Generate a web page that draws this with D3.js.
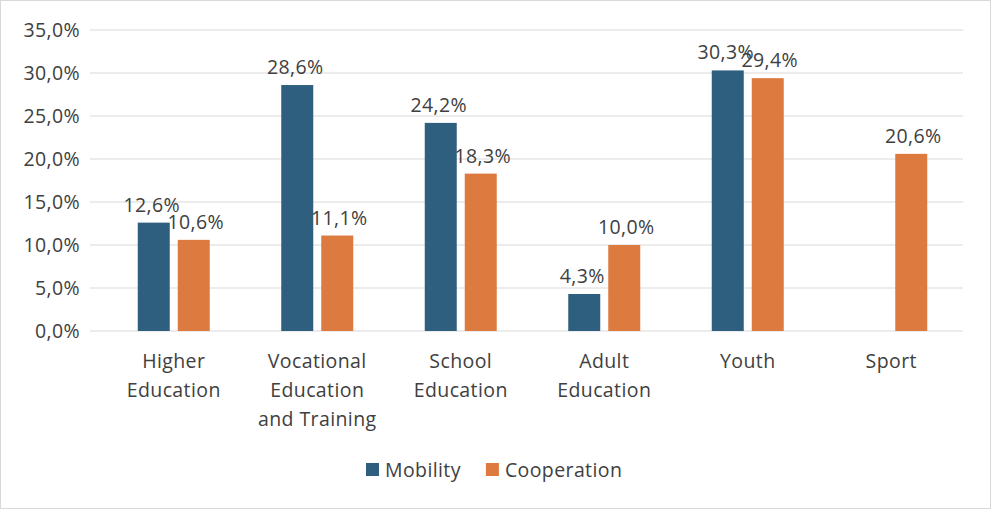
<!DOCTYPE html>
<html>
<head>
<meta charset="utf-8">
<script src="https://cdn.jsdelivr.net/npm/d3@7"></script>
<style>
  body { margin: 0; background: #fff; }
  svg { font-family: "Open Sans", sans-serif; letter-spacing: 0.4px; }
</style>
</head>
<body>
<svg id="chart" width="991" height="509"></svg>
<script>
const categories = [
  ["Higher", "Education"],
  ["Vocational", "Education", "and Training"],
  ["School", "Education"],
  ["Adult", "Education"],
  ["Youth"],
  ["Sport"]
];
const mobility = [12.6, 28.6, 24.2, 4.3, 30.3, null];
const cooperation = [10.6, 11.1, 18.3, 10.0, 29.4, 20.6];
const yTicks = [0, 5, 10, 15, 20, 25, 30, 35];
const seriesNames = ["Mobility", "Cooperation"];
const colors = ["#2e5f7f", "#dd7a40"];

const svg = d3.select("#chart");
const margin = {left: 102, right: 28, top: 30, bottom: 178};
const width = 991 - margin.left - margin.right;
const height = 509 - margin.top - margin.bottom;
const textColor = "#404040";
const fs = 19.5;
const fmt = v => v.toFixed(1).replace(".", ",") + "%";

svg.append("rect").attr("x", 0.5).attr("y", 0.5).attr("width", 990).attr("height", 508)
  .attr("fill", "#fff").attr("stroke", "#d9d9d9");

const g = svg.append("g").attr("transform", `translate(${margin.left},${margin.top})`);

const x = d3.scaleBand().domain(d3.range(categories.length)).range([0, width]);
const y = d3.scaleLinear().domain([0, 35]).range([height, 0]);

// grid + y labels
g.selectAll(".grid").data(yTicks).enter().append("line")
  .attr("x1", -12).attr("x2", width)
  .attr("y1", d => y(d)).attr("y2", d => y(d))
  .attr("stroke", "#d9d9d9");
g.selectAll(".ylab").data(yTicks).enter().append("text")
  .attr("x", -22).attr("y", d => y(d)).attr("dy", "0.35em")
  .attr("text-anchor", "end").attr("font-size", fs).attr("fill", textColor)
  .text(d => fmt(d));

// bars
const barW = 32, gap = 8;
[mobility, cooperation].forEach((series, s) => {
  const off = s === 0 ? -gap / 2 - barW : gap / 2;
  const shift = s === 0 ? -2 : 2;
  const data = series.map((v, i) => ({i, v})).filter(d => d.v !== null);
  g.selectAll(".bar" + s).data(data).enter().append("rect")
    .attr("x", d => x(d.i) + x.bandwidth() / 2 + off)
    .attr("width", barW)
    .attr("y", d => y(d.v)).attr("height", d => height - y(d.v))
    .attr("fill", colors[s]);
  g.selectAll(".lab" + s).data(data).enter().append("text")
    .attr("x", d => x(d.i) + x.bandwidth() / 2 + off + barW / 2 + shift)
    .attr("y", d => y(d.v) - 11)
    .attr("text-anchor", "middle").attr("font-size", fs).attr("fill", textColor)
    .text(d => fmt(d.v));
});

// x axis labels
categories.forEach((lines, i) => {
  const t = g.append("text").attr("text-anchor", "middle")
    .attr("font-size", fs).attr("fill", textColor);
  lines.forEach((l, k) => {
    t.append("tspan").attr("x", x(i) + x.bandwidth() / 2)
      .attr("y", height + 37 + k * 29).text(l);
  });
});

// legend
const leg = svg.append("g").attr("transform", "translate(366,470)");
let lx = 0;
seriesNames.forEach((n, s) => {
  leg.append("rect").attr("x", lx).attr("y", -7).attr("width", 13).attr("height", 13).attr("fill", colors[s]);
  const t = leg.append("text").attr("x", lx + 19).attr("y", 0).attr("dy", "0.35em")
    .attr("font-size", fs).attr("fill", textColor).text(n);
  lx += 19 + t.node().getComputedTextLength() + 25;
});
</script>
</body>
</html>
